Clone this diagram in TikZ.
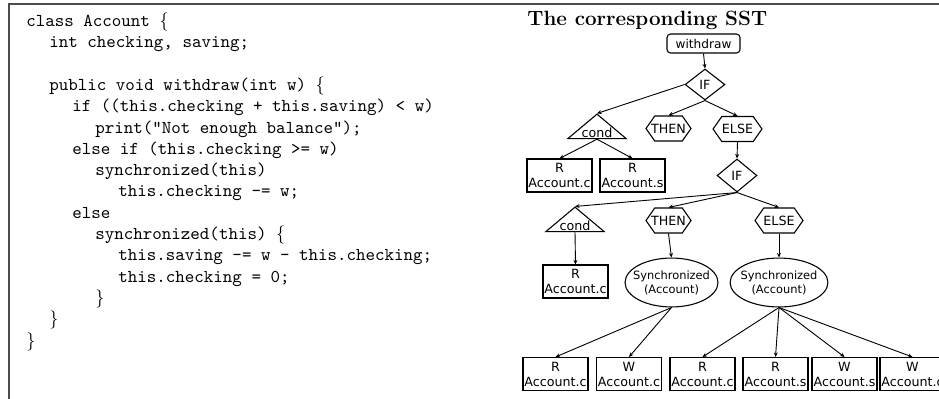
\documentclass[tikz,border=0pt]{standalone}
\usepackage{fontspec}
\setsansfont{DejaVu Sans}
\usetikzlibrary{shapes.geometric,shapes.symbols,arrows.meta}

\tikzset{
  code/.style={font=\ttfamily\fontsize{10}{12}\selectfont, inner sep=0pt, anchor=base west},
  sst/.style={draw, line width=0.6pt, font=\sffamily\fontsize{7}{8.3}\selectfont, align=center},
  rootbox/.style={sst, rounded corners=2pt, font=\sffamily\fontsize{6.7}{8}\selectfont, minimum width=40.3pt, minimum height=10.5pt, inner sep=0.5pt},
  ifnode/.style={sst, diamond, inner sep=0pt, minimum width=22pt, minimum height=17.1pt},
  condnode/.style={sst, isosceles triangle, shape border rotate=90, isosceles triangle apex angle=100, inner xsep=0.2pt, inner ysep=0.4pt},
  hexnode/.style={sst, signal, signal to=east and west, signal pointer angle=110, minimum height=13.8pt, inner xsep=-2pt, inner ysep=0pt},
  varbox/.style={sst, minimum width=35.9pt, minimum height=18.2pt, inner sep=0.5pt},
  syncnode/.style={sst, ellipse, font=\sffamily\fontsize{6.3}{7.7}\selectfont, minimum width=51.3pt, minimum height=27pt, inner xsep=-5pt, inner ysep=0pt},
  edge/.style={-{Stealth[length=2.5pt,width=2.2pt]}, line width=0.5pt},
}

\begin{document}
\begin{tikzpicture}[x=0.552pt, y=-0.552pt]
  \useasboundingbox (0,0) rectangle (939,398);
  \draw[line width=1.1pt, black!70] (9,400) -- (9,4) -- (945,4);

  % source code
  \foreach \k/\lvl/\txt in {0/0/{class Account $\{$},
      1/1/{int checking, saving;},
      3/1/{public void withdraw(int w) $\{$},
      4/2/{if ((this.checking + this.saving) < w)},
      5/3/{print("Not enough balance");},
      6/2/{else if (this.checking >= w)},
      7/3/{synchronized(this)},
      8/4/{this.checking -= w;},
      9/2/{else},
      10/3/{synchronized(this) $\{$},
      11/4/{this.saving -= w - this.checking;},
      12/4/{this.checking = 0;},
      13/3/{$\}$},
      14/1/{$\}$},
      15/0/{$\}$}} {
    \node[code] (line\k) at (26+23*\lvl, 26.5+21.3*\k) {\txt};
  }

  % the tree
  \node[font=\rmfamily\bfseries\fontsize{11.4}{13}\selectfont, anchor=base west, inner sep=0pt] (title) at (527,25) {The corresponding SST};
  \node[rootbox] (withdraw) at (703.5,43.5) {withdraw};
  \node[ifnode] (if1) at (705,84.5) {IF};
  \node[condnode] (cond1) at (597,133) {cond};
  \node[hexnode, minimum width=22.6pt] (then1) at (668.5,128.5) {THEN};
  \node[hexnode, minimum width=27pt] (else1) at (737.5,129) {ELSE};
  \node[varbox] (rc1) at (559.5,175.5) {R\\Account.c};
  \node[varbox] (rs1) at (632.5,175.5) {R\\Account.s};
  \node[ifnode, minimum height=18.2pt] (if2) at (737,175.5) {IF};
  \node[condnode] (cond2) at (575,226) {cond};
  \node[hexnode, minimum width=21.5pt] (then2) at (668.5,220.5) {THEN};
  \node[hexnode, minimum width=26.5pt] (else2) at (779,220.5) {ELSE};
  \node[varbox] (rc2) at (575.5,281.5) {R\\Account.c};
  \node[syncnode] (sync1) at (671.5,282.5) {Synchronized\\(Account)};
  \node[syncnode, minimum width=54pt] (sync2) at (779,282.5) {Synchronized\\(Account)};
  \foreach \i/\x/\rw/\f in {1/555.5/R/c, 2/629/W/c, 3/702.5/R/c, 4/775.5/R/s, 5/844.5/W/s, 6/912.5/W/c} {
    \node[varbox] (leaf\i) at (\x,374) {\rw\\Account.\f};
  }

  \draw[edge] (withdraw.south) -- (if1.north);
  \draw[edge] (if1.west) -- (cond1.apex);
  \draw[edge] (if1.south) -- (then1.north);
  \draw[edge] (if1.south) -- (else1.north);
  \draw[edge] (cond1.lower side) -- (rc1.north);
  \draw[edge] (cond1.lower side) -- (rs1.north);
  \draw[edge] (else1.south) -- (if2.north);
  \draw[edge] (if2.south) -- (cond2.apex);
  \draw[edge] (if2.south) -- (then2.north);
  \draw[edge] (if2.south) -- (else2.north);
  \draw[edge] (cond2.lower side) -- (rc2.north);
  \draw[edge] (then2.south) -- (sync1.north);
  \draw[edge] (else2.south) -- (sync2.north);
  \foreach \i in {1,2} {
    \draw[edge] (sync1.south) -- (leaf\i.north);
  }
  \foreach \i in {3,...,6} {
    \draw[edge] (sync2.south) -- (leaf\i.north);
  }
\end{tikzpicture}
\end{document}
